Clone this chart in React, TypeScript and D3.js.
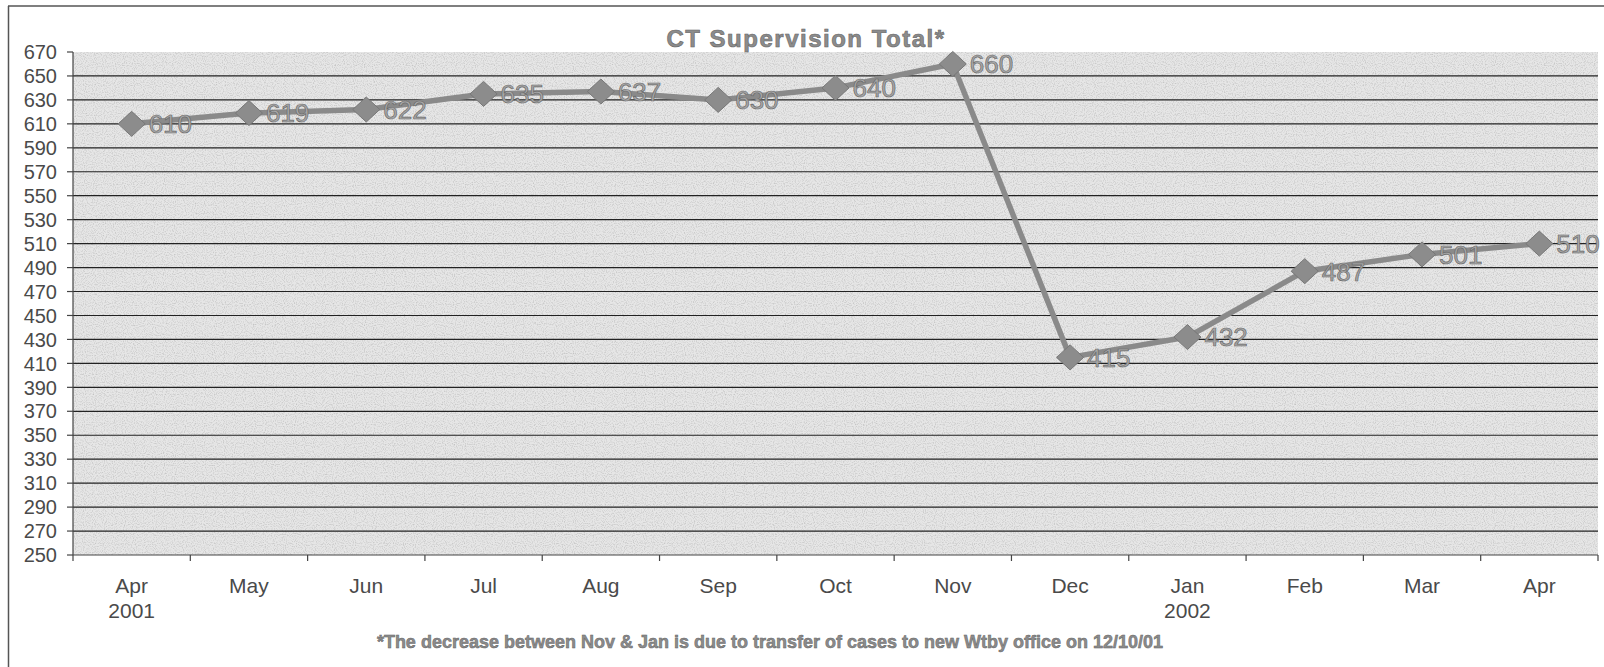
import React from "react";
import * as d3 from "d3";

const months = ["Apr", "May", "Jun", "Jul", "Aug", "Sep", "Oct", "Nov", "Dec", "Jan", "Feb", "Mar", "Apr"];
const years = ["2001", "", "", "", "", "", "", "", "", "2002", "", "", ""];
const values = [610, 619, 622, 635, 637, 630, 640, 660, 415, 432, 487, 501, 510];
const yTicks = [250, 270, 290, 310, 330, 350, 370, 390, 410, 430, 450, 470, 490, 510, 530, 550, 570, 590, 610, 630, 650, 670];
const title = "CT Supervision Total*";
const footnote = "*The decrease between Nov & Jan is due to transfer of cases to new Wtby office on 12/10/01";

const W = 1604;
const H = 667;
const FONT = "'Liberation Sans', Arial, sans-serif";

export default function App() {
  const left = 73, right = 1598, top = 52, bottom = 555;
  const keys = months.map((_, i) => String(i));
  const x = d3.scaleBand<string>().domain(keys).range([left, right]);
  const y = d3.scaleLinear().domain([250, 670]).range([bottom, top]);
  const cx = (i: number) => (x(String(i)) as number) + x.bandwidth() / 2;
  const line = d3.line<number>().x((_, i) => cx(i)).y((d) => y(d));
  const dw = 13.5, dh = 12.5;
  const diamond = `M0,${-dh}L${dw},0L0,${dh}L${-dw},0Z`;
  const boundaries = keys.map((k) => x(k) as number).concat([right]);

  return (
    <svg width={W} height={H} style={{ position: "absolute", left: 0, top: 0, background: "#fff" }}>
      <defs>
        <filter id="noise" x="0" y="0" width="100%" height="100%">
          <feTurbulence type="fractalNoise" baseFrequency="0.9" numOctaves="1" seed="3" result="t" />
          <feColorMatrix type="matrix" values="0 0 0 0 0.45  0 0 0 0 0.45  0 0 0 0 0.45  0 0 0 2.2 -1.0" />
        </filter>
      </defs>
      {/* frame */}
      <line x1={8.5} y1={6} x2={8.5} y2={H} stroke="#555" strokeWidth={1.5} />
      <line x1={8} y1={6} x2={W} y2={6} stroke="#555" strokeWidth={1.5} />

      {/* plot background */}
      <rect x={left} y={top} width={right - left} height={bottom - top} fill="#e6e6e6" />
      <rect x={left} y={top} width={right - left} height={bottom - top} filter="url(#noise)" opacity={0.8} />

      {/* gridlines */}
      {yTicks.filter((t) => t !== 250 && t !== 670).map((t) => (
        <line key={t} x1={left} x2={right} y1={y(t)} y2={y(t)} stroke="#222" strokeWidth={1.2} />
      ))}

      {/* axes */}
      <line x1={left} x2={left} y1={top} y2={bottom} stroke="#444" strokeWidth={1.2} />
      <line x1={left} x2={right} y1={bottom} y2={bottom} stroke="#444" strokeWidth={1.2} />
      {yTicks.map((t) => (
        <g key={"yt" + t}>
          <line x1={left - 6} x2={left} y1={y(t)} y2={y(t)} stroke="#444" strokeWidth={1.2} />
          <text x={57} y={y(t)} dy="0.36em" textAnchor="end" fontFamily={FONT} fontSize={20} fill="#4a4a4a">
            {t}
          </text>
        </g>
      ))}
      {boundaries.map((b, i) => (
        <line key={"xt" + i} x1={b} x2={b} y1={bottom} y2={bottom + 6} stroke="#444" strokeWidth={1.2} />
      ))}
      {months.map((m, i) => (
        <g key={"xl" + i}>
          <text x={cx(i)} y={593} textAnchor="middle" fontFamily={FONT} fontSize={21} fill="#4a4a4a">
            {m}
          </text>
          {years[i] && (
            <text x={cx(i)} y={618} textAnchor="middle" fontFamily={FONT} fontSize={21} fill="#4a4a4a">
              {years[i]}
            </text>
          )}
        </g>
      ))}

      {/* series */}
      <path d={line(values) || ""} fill="none" stroke="#8a8a8a" strokeWidth={5.5} strokeLinejoin="round" />
      {values.map((v, i) => (
        <path key={"m" + i} d={diamond} transform={`translate(${cx(i)},${y(v)})`} fill="#8c8c8c" stroke="#777" strokeWidth={1} />
      ))}
      {values.map((v, i) => (
        <text key={"l" + i} x={cx(i) + 17} y={y(v)} dy="0.36em" fontFamily={FONT} fontSize={26} fill="#a8a8a8" stroke="#6a6a6a" strokeWidth={0.7}>
          {v}
        </text>
      ))}

      {/* title & footnote */}
      <text x={806} y={47} textAnchor="middle" fontFamily={FONT} fontSize={24} letterSpacing={1.5} fontWeight="bold" fill="#8c8c8c" stroke="#666" strokeWidth={0.6}>
        {title}
      </text>
      <text x={770} y={648} textAnchor="middle" fontFamily={FONT} fontSize={18} fontWeight="bold" fill="#8c8c8c" stroke="#666" strokeWidth={0.5}>
        {footnote}
      </text>
    </svg>
  );
}
